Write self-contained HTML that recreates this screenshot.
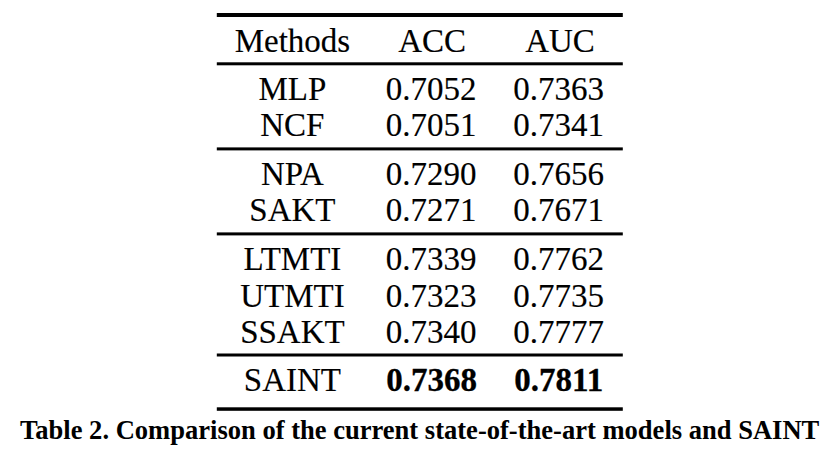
<!DOCTYPE html>
<html><head><meta charset="utf-8">
<style>
html,body{margin:0;padding:0;background:#fff;width:828px;height:455px;overflow:hidden;}
body{position:relative;font-family:"Liberation Serif",serif;color:#000;}
.rl{position:absolute;left:0;top:0;}
.t{position:absolute;line-height:0;white-space:nowrap;-webkit-text-stroke:0.15px #000;}
</style></head><body>
<svg class="rl" width="828" height="455" viewBox="0 0 828 455"><rect x="216.8" y="13.0" width="406.0" height="4.0" fill="#000"/><rect x="216.8" y="62.3" width="406.0" height="3.0" fill="#000"/><rect x="216.8" y="147.4" width="406.0" height="3.0" fill="#000"/><rect x="216.8" y="232.4" width="406.0" height="3.0" fill="#000"/><rect x="216.8" y="353.5" width="406.0" height="3.0" fill="#000"/><rect x="216.8" y="407.3" width="406.0" height="3.5" fill="#000"/></svg>
<div class="t" style="top:40.97px;font-size:33.0px;left:142.40px;width:300px;text-align:center;">Methods</div>
<div class="t" style="top:40.97px;font-size:33.0px;left:282.20px;width:300px;text-align:center;">ACC</div>
<div class="t" style="top:40.97px;font-size:33.0px;left:410.00px;width:300px;text-align:center;">AUC</div>
<div class="t" style="top:88.87px;font-size:33.0px;left:142.40px;width:300px;text-align:center;">MLP</div>
<div class="t" style="top:88.87px;font-size:33.0px;left:281.00px;width:300px;text-align:center;">0.7052</div>
<div class="t" style="top:88.87px;font-size:33.0px;left:408.50px;width:300px;text-align:center;">0.7363</div>
<div class="t" style="top:125.37px;font-size:33.0px;left:142.40px;width:300px;text-align:center;">NCF</div>
<div class="t" style="top:125.37px;font-size:33.0px;left:281.00px;width:300px;text-align:center;">0.7051</div>
<div class="t" style="top:125.37px;font-size:33.0px;left:408.50px;width:300px;text-align:center;">0.7341</div>
<div class="t" style="top:173.57px;font-size:33.0px;left:142.40px;width:300px;text-align:center;">NPA</div>
<div class="t" style="top:173.57px;font-size:33.0px;left:281.00px;width:300px;text-align:center;">0.7290</div>
<div class="t" style="top:173.57px;font-size:33.0px;left:408.50px;width:300px;text-align:center;">0.7656</div>
<div class="t" style="top:210.37px;font-size:33.0px;left:142.40px;width:300px;text-align:center;">SAKT</div>
<div class="t" style="top:210.37px;font-size:33.0px;left:281.00px;width:300px;text-align:center;">0.7271</div>
<div class="t" style="top:210.37px;font-size:33.0px;left:408.50px;width:300px;text-align:center;">0.7671</div>
<div class="t" style="top:259.37px;font-size:33.0px;left:142.40px;width:300px;text-align:center;">LTMTI</div>
<div class="t" style="top:259.37px;font-size:33.0px;left:281.00px;width:300px;text-align:center;">0.7339</div>
<div class="t" style="top:259.37px;font-size:33.0px;left:408.50px;width:300px;text-align:center;">0.7762</div>
<div class="t" style="top:295.57px;font-size:33.0px;left:142.40px;width:300px;text-align:center;">UTMTI</div>
<div class="t" style="top:295.57px;font-size:33.0px;left:281.00px;width:300px;text-align:center;">0.7323</div>
<div class="t" style="top:295.57px;font-size:33.0px;left:408.50px;width:300px;text-align:center;">0.7735</div>
<div class="t" style="top:332.07px;font-size:33.0px;left:142.40px;width:300px;text-align:center;">SSAKT</div>
<div class="t" style="top:332.07px;font-size:33.0px;left:281.00px;width:300px;text-align:center;">0.7340</div>
<div class="t" style="top:332.07px;font-size:33.0px;left:408.50px;width:300px;text-align:center;">0.7777</div>
<div class="t" style="top:379.77px;font-size:33.0px;left:142.40px;width:300px;text-align:center;">SAINT</div>
<div class="t" style="top:379.77px;font-size:33.0px;left:281.60px;width:300px;text-align:center;font-weight:bold;-webkit-text-stroke:0.3px #000;">0.7368</div>
<div class="t" style="top:379.77px;font-size:33.0px;left:408.80px;width:300px;text-align:center;font-weight:bold;-webkit-text-stroke:0.3px #000;">0.7811</div>
<div class="t" style="top:429.84px;font-size:26.55px;left:20.00px;font-weight:bold;-webkit-text-stroke:0;">Table 2. Comparison of the current state-of-the-art models and SAINT</div>
</body></html>
